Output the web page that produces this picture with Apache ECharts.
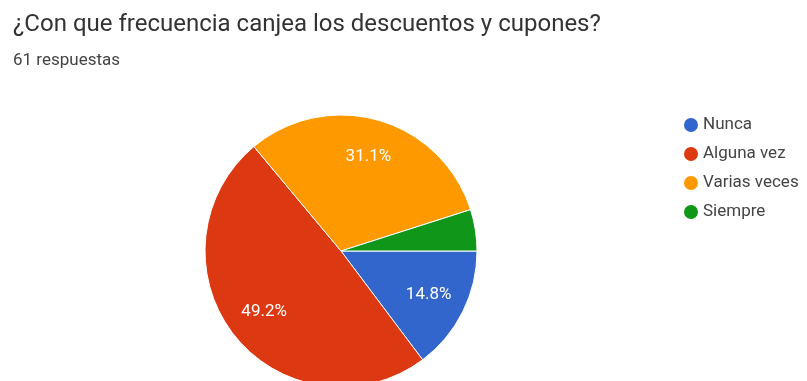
<!DOCTYPE html>
<html>
<head>
<meta charset="utf-8">
<script src="https://cdn.jsdelivr.net/npm/echarts@6/dist/echarts.min.js"></script>
<style>
  html, body { margin: 0; padding: 0; background: #fff; }
  #chart { width: 807px; height: 381px; }
</style>
</head>
<body>
<div id="chart"></div>
<script>
// Survey answers: how often discounts and coupons are redeemed (61 responses)
const categories = ['Nunca', 'Alguna vez', 'Varias veces', 'Siempre'];
const responses = [9, 30, 19, 3];
const sliceColors = ['#3366cc', '#dc3912', '#ff9900', '#109618'];

const pieData = categories.map((name, i) => ({ name: name, value: responses[i] }));
const total = responses.reduce((a, b) => a + b, 0);

const chart = echarts.init(document.getElementById('chart'));
chart.setOption({
  backgroundColor: '#ffffff',
  animation: false,
  color: sliceColors,
  title: [
    {
      text: '¿Con que frecuencia canjea los descuentos y cupones?',
      left: 8, top: 8,
      textStyle: { fontFamily: 'Roboto', fontSize: 24, fontWeight: 'normal', color: '#333333' }
    },
    {
      text: total + ' respuestas',
      left: 8, top: 47,
      textStyle: { fontFamily: 'Roboto', fontSize: 17, fontWeight: 'normal', color: '#444444' }
    }
  ],
  legend: {
    orient: 'vertical',
    left: 677, top: 111,
    icon: 'circle',
    itemWidth: 16, itemHeight: 16, itemGap: 11,
    data: categories.map((name, i) => ({ name: name, itemStyle: { color: sliceColors[i] } })),
    textStyle: { fontFamily: 'Roboto', fontSize: 17, color: '#444444', padding: [0, 0, 0, -1] }
  },
  series: [
    {
      type: 'pie',
      center: [341, 251],
      radius: 136,
      startAngle: 0,
      clockwise: true,
      label: { show: false },
      labelLine: { show: false },
      itemStyle: { borderColor: '#ffffff', borderWidth: 1 },
      data: pieData
    },
    {
      // transparent ring that carries the percentage labels at ~70% of the radius
      type: 'pie',
      center: [341, 251],
      radius: [54, 136],
      startAngle: 0,
      clockwise: true,
      silent: true,
      percentPrecision: 1,
      itemStyle: { color: 'rgba(0,0,0,0)' },
      labelLine: { show: false },
      label: {
        show: true,
        position: 'inside',
        fontFamily: 'Roboto',
        fontSize: 17,
        color: '#ffffff',
        formatter: p => (p.percent < 5 ? '' : p.percent.toFixed(1) + '%')
      },
      data: pieData
    }
  ]
});
</script>
</body>
</html>
